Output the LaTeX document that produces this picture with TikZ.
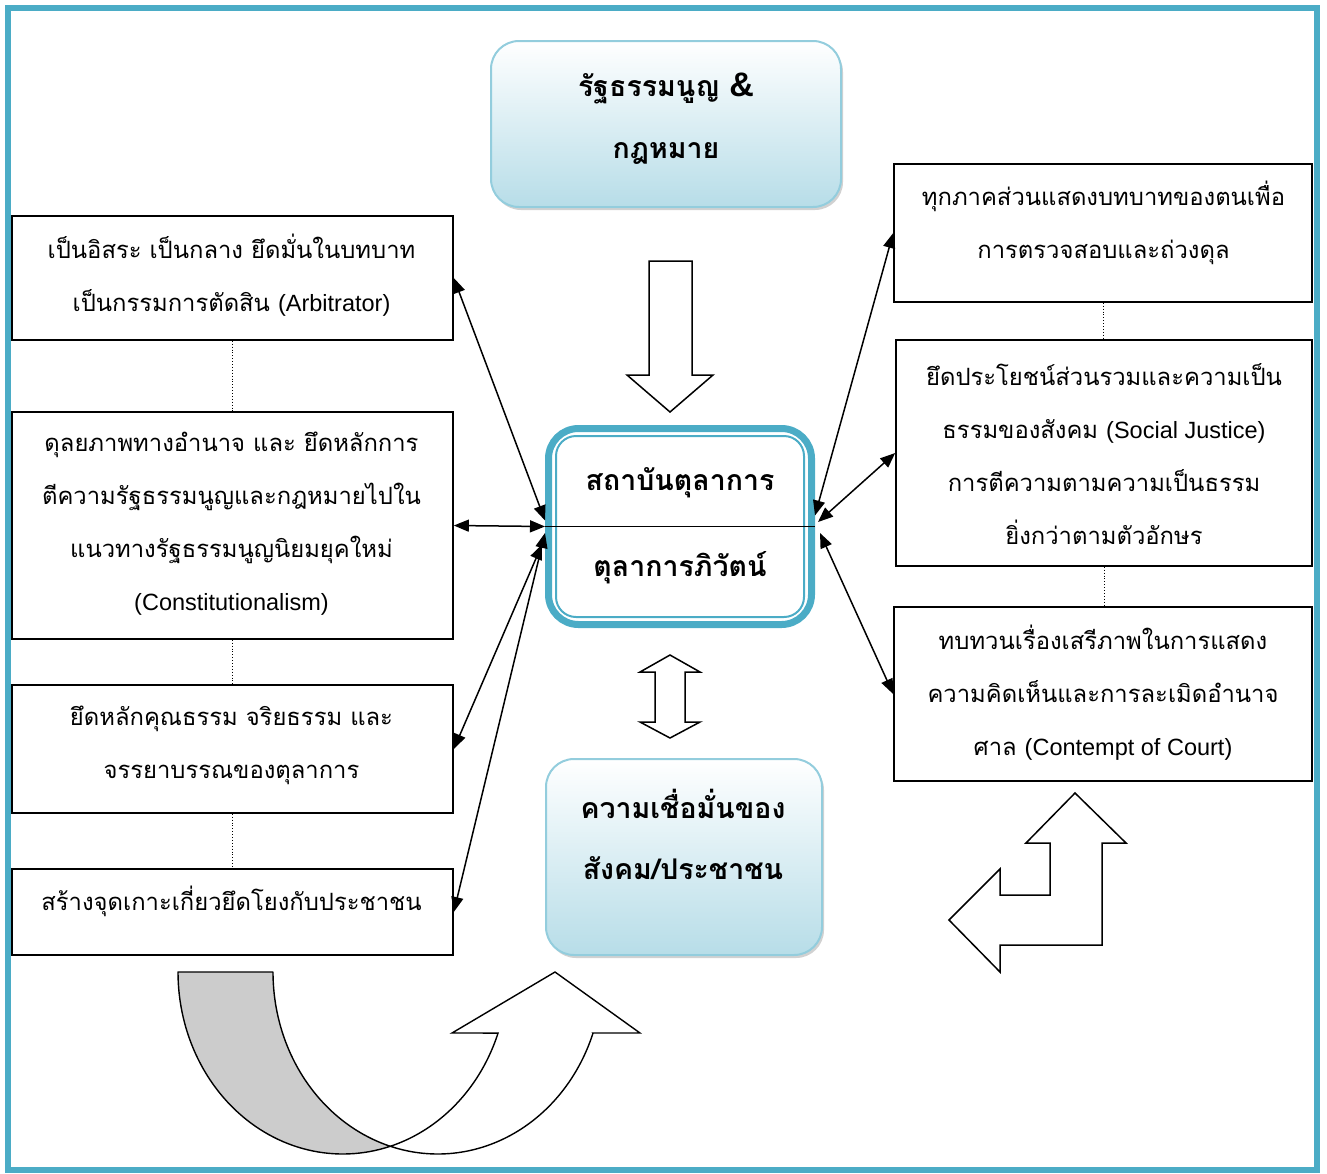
\documentclass[tikz,border=0pt]{standalone}
\usepackage{fontspec}
\usetikzlibrary{arrows.meta,shadows}
\newfontfamily\thaifont[Script=Thai]{Loma}
\newfontfamily\latfont{Liberation Sans}
\definecolor{tealB}{HTML}{4BACC6}
\definecolor{lblue}{HTML}{B7DDE8}
\definecolor{bordB}{HTML}{93CDDD}
\newcommand\eng[1]{{\latfont\fontsize{23.5}{53}\selectfont #1}}
\begin{document}
\begin{tikzpicture}[x=1pt,y=-1pt,
  tbox/.style={draw=black, line width=1.6pt, inner sep=0pt},
  txt/.style={align=center, inner sep=0pt, font=\thaifont\fontsize{23.8}{53}\selectfont},
  btxt/.style={align=center, inner sep=0pt},
  softbox/.style={top color=white, bottom color=lblue, draw=bordB, line width=2pt,
     rounded corners=28pt, drop shadow={shadow xshift=2pt, shadow yshift=-3pt, fill=gray!45, opacity=0.8}},
  conn/.style={line width=1.5pt, {Triangle[length=15pt,width=12pt]}-{Triangle[length=15pt,width=12pt]}},
  dotline/.style={line width=0.9pt, dotted},
  hollow/.style={draw=black, line width=1.5pt, fill=white, line join=miter}
]
\useasboundingbox (0,0) rectangle (1327,1173);
% frame
\draw[tealB, line width=6pt] (8,8) rectangle (1316.5,1170);

% top box
\node[softbox, minimum width=350pt, minimum height=166pt] (top) at (666,124) {};
\node[btxt, font=\thaifont\bfseries\fontsize{28.5}{62}\selectfont] (toptxt) at (666,119)
  {รัฐธรรมนูญ {\latfont\bfseries\fontsize{34}{62}\selectfont\&}\\กฎหมาย};

% down arrow
\draw[hollow] (649,261) -- (692,261) -- (692,375) -- (713,375) -- (670,412) -- (627,375) -- (649,375) -- cycle;

% center box
\node[draw=tealB, line width=7pt, rounded corners=30pt, minimum width=263pt, minimum height=196pt] (c) at (680,526.5) {};
\draw[tealB, line width=2pt, rounded corners=20pt] ([shift={(11,-11)}]c.south west) rectangle ([shift={(-11,11)}]c.north east);
\node[btxt, font=\thaifont\bfseries\fontsize{28.5}{86}\selectfont] (ctxt) at (680,526)
  {สถาบันตุลาการ\\ตุลาการภิวัตน์};
\draw[line width=1.6pt] (c.west) -- (c.east);

% double arrow
\draw[hollow] (670,655) -- (700,672) -- (685,672) -- (685,722) -- (700,722) -- (670,738) -- (640,722) -- (655,722) -- (655,672) -- (640,672) -- cycle;

% bottom box
\node[softbox, minimum width=276pt, minimum height=196pt] (bot) at (684,857) {};
\node[btxt, font=\thaifont\bfseries\fontsize{28.5}{61}\selectfont] (bottxt) at (683,834.5)
  {ความเชื่อมั่นของ\\สังคม/ประชาชน};

% left boxes
\node[tbox, minimum width=441pt, minimum height=124pt] (l1) at (232.5,278) {};
\node[txt] (l1t) at (231.5,275.5) {เป็นอิสระ เป็นกลาง ยึดมั่นในบทบาท\\เป็นกรรมการตัดสิน \eng{(Arbitrator)}};
\node[tbox, minimum width=441pt, minimum height=227pt] (l2) at (232.5,525.5) {};
\node[txt] (l2t) at (231.5,523.5) {ดุลยภาพทางอำนาจ และ ยึดหลักการ\\ตีความรัฐธรรมนูญและกฎหมายไปใน\\แนวทางรัฐธรรมนูญนิยมยุคใหม่\\\eng{(Constitutionalism)}};
\node[tbox, minimum width=441pt, minimum height=128pt] (l3) at (232.5,749) {};
\node[txt] (l3t) at (231.5,745.5) {ยึดหลักคุณธรรม จริยธรรม และ\\จรรยาบรรณของตุลาการ};
\node[tbox, minimum width=441pt, minimum height=86pt] (l4) at (232.5,912) {};
\node[txt] (l4t) at (231.5,901) {สร้างจุดเกาะเกี่ยวยึดโยงกับประชาชน};

% right boxes
\node[tbox, minimum width=418pt, minimum height=138pt] (r1) at (1103,233) {};
\node[txt] (r1t) at (1103.5,223) {ทุกภาคส่วนแสดงบทบาทของตนเพื่อ\\การตรวจสอบและถ่วงดุล};
\node[tbox, minimum width=416pt, minimum height=226pt] (r2) at (1104,453) {};
\node[txt] (r2t) at (1104,454) {ยึดประโยชน์ส่วนรวมและความเป็น\\ธรรมของสังคม \eng{(Social Justice)}\\การตีความตามความเป็นธรรม\\ยิ่งกว่าตามตัวอักษร};
\node[tbox, minimum width=418pt, minimum height=174pt] (r3) at (1103,694) {};
\node[txt] (r3t) at (1103,693) {ทบทวนเรื่องเสรีภาพในการแสดง\\ความคิดเห็นและการละเมิดอำนาจ\\ศาล \eng{(Contempt of Court)}};

% dotted links
\draw[dotline] (l1.south) -- (l2.north);
\draw[dotline] (l2.south) -- (l3.north);
\draw[dotline] (l3.south) -- (l4.north);
\draw[dotline] (r1.south) -- (r1.south |- r2.north);
\draw[dotline] (r2.south) -- (r2.south |- r3.north);

% connectors
\draw[conn] (l1.east) -- ([yshift=6pt]c.west);
\draw[conn] (l2.east) -- (c.west);
\draw[conn] (l3.east) -- ([shift={(-3pt,-18pt)}]c.west);
\draw[conn] (l4.east) -- ([yshift=-6.5pt]c.west);
\draw[conn] ([yshift=11pt]c.east) -- (r1.west);
\draw[conn] ([shift={(3pt,4.5pt)}]c.east) -- (r2.west);
\draw[conn] ([shift={(5pt,-6.5pt)}]c.east) -- (r3.west);

% bent arrow
\draw[hollow] (1075,793) -- (1126,843) -- (1102,843) -- (1102,945) -- (1000,945) -- (1000,972) -- (949,920) -- (1000,869) -- (1000,895) -- (1050,895) -- (1050,843) -- (1026,843) -- cycle;

% curved up arrow
\filldraw[draw=black, line width=1.4pt, fill=gray!40, line join=round]
  plot[domain=180:73.2, samples=60, variable=\t] ({342.8+164.8*cos(\t)},{972+182*sin(\t)})
  -- plot[domain=106.8:180, samples=60, variable=\t] ({437.8+164.8*cos(\t)},{972+182*sin(\t)})
  -- cycle;
\filldraw[draw=black, line width=1.4pt, fill=white, line join=miter]
  plot[domain=73.2:19.6, samples=50, variable=\t] ({342.8+164.8*cos(\t)},{972+182*sin(\t)})
  -- (452,1033) -- (555,972) -- (640,1033) -- (593,1033)
  -- plot[domain=19.6:106.8, samples=60, variable=\t] ({437.8+164.8*cos(\t)},{972+182*sin(\t)})
  -- cycle;
\end{tikzpicture}
\end{document}
